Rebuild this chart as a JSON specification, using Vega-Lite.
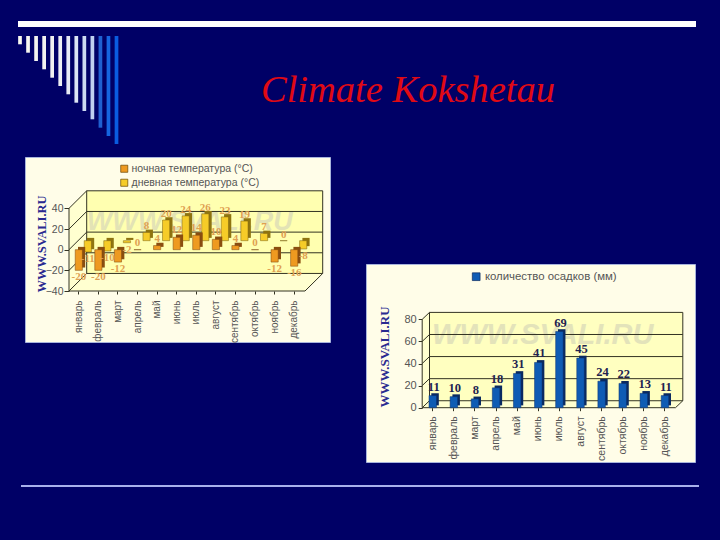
{
"$schema":"https://vega.github.io/schema/vega-lite/v6.json",
"background":"#000066","padding":0,"autosize":{"type":"pad"},
"config":{"view":{"stroke":null},"font":"Liberation Sans"},
"datasets":{
"temps":[
{"month":"январь","series":"ночная температура (°C)","value":-20},{"month":"февраль","series":"ночная температура (°C)","value":-20},{"month":"март","series":"ночная температура (°C)","value":-12},{"month":"апрель","series":"ночная температура (°C)","value":0},{"month":"май","series":"ночная температура (°C)","value":4},{"month":"июнь","series":"ночная температура (°C)","value":12},{"month":"июль","series":"ночная температура (°C)","value":14},{"month":"август","series":"ночная температура (°C)","value":10},{"month":"сентябрь","series":"ночная температура (°C)","value":4},{"month":"октябрь","series":"ночная температура (°C)","value":0},{"month":"ноябрь","series":"ночная температура (°C)","value":-12},{"month":"декабрь","series":"ночная температура (°C)","value":-16},
{"month":"январь","series":"дневная температура (°C)","value":-11},{"month":"февраль","series":"дневная температура (°C)","value":-10},{"month":"март","series":"дневная температура (°C)","value":-2},{"month":"апрель","series":"дневная температура (°C)","value":8},{"month":"май","series":"дневная температура (°C)","value":20},{"month":"июнь","series":"дневная температура (°C)","value":24},{"month":"июль","series":"дневная температура (°C)","value":26},{"month":"август","series":"дневная температура (°C)","value":23},{"month":"сентябрь","series":"дневная температура (°C)","value":19},{"month":"октябрь","series":"дневная температура (°C)","value":7},{"month":"ноябрь","series":"дневная температура (°C)","value":0},{"month":"декабрь","series":"дневная температура (°C)","value":-8}],
"rain":[{"month":"январь","series":"количество осадков (мм)","value":11},{"month":"февраль","series":"количество осадков (мм)","value":10},{"month":"март","series":"количество осадков (мм)","value":8},{"month":"апрель","series":"количество осадков (мм)","value":18},{"month":"май","series":"количество осадков (мм)","value":31},{"month":"июнь","series":"количество осадков (мм)","value":41},{"month":"июль","series":"количество осадков (мм)","value":69},{"month":"август","series":"количество осадков (мм)","value":45},{"month":"сентябрь","series":"количество осадков (мм)","value":24},{"month":"октябрь","series":"количество осадков (мм)","value":22},{"month":"ноябрь","series":"количество осадков (мм)","value":13},{"month":"декабрь","series":"количество осадков (мм)","value":11}]
},
"spacing":0,
"resolve":{"scale":{"color":"independent"},"legend":{"color":"independent"}},
"vconcat":[
{"width":720,"height":156,"resolve":{"scale":{"x":"independent","y":"independent","color":"independent"}},
 "layer":[
 {"data":{"values":[{"a":0,"b":1}]},"mark":{"type":"rule","color":"#FFFFFF","strokeWidth":6},
  "encoding":{"x":{"field":"a","type":"quantitative","axis":null,"scale":{"domain":[0,1],"range":[18,696]}},"x2":{"field":"b"},"y":{"field":"a","type":"quantitative","axis":null,"scale":{"domain":[0,1],"range":[24,25]}}}},
 {"data":{"values":[{"stripe":1,"length":8.3},{"stripe":2,"length":16.7},{"stripe":3,"length":25},{"stripe":4,"length":33.3},{"stripe":5,"length":41.7},{"stripe":6,"length":50},{"stripe":7,"length":58.3},{"stripe":8,"length":66.7},{"stripe":9,"length":75},{"stripe":10,"length":83.3},{"stripe":11,"length":91.7},{"stripe":12,"length":100},{"stripe":13,"length":108}]},
  "mark":{"type":"bar","size":3.7},
  "encoding":{"x":{"field":"stripe","type":"quantitative","axis":null,"scale":{"domain":[1,13],"range":[20,116.5],"padding":0}},
   "y":{"field":"length","type":"quantitative","axis":null,"scale":{"domain":[0,108],"range":[36,144]}},
   "color":{"field":"stripe","type":"ordinal","legend":null,"scale":{"range":["#F8F8F0","#F6F6F0","#F4F4F0","#F2F2F0","#F0F0F0","#ECEEF2","#E6EAF4","#DDE6F5","#CCDAF2","#C0D0F0","#1F60D0","#1565E0","#0A5CE0"]}}}},
 {"data":{"values":[{"u":0.5,"t":"Climate Kokshetau"}]},"mark":{"type":"text","font":"Liberation Serif","fontStyle":"italic","fontSize":38.5,"color":"#E00A14","align":"center","baseline":"alphabetic"},
  "encoding":{"x":{"field":"u","type":"quantitative","axis":null,"scale":{"domain":[0,1],"range":[260,556]}},
   "y":{"field":"u","type":"quantitative","axis":null,"scale":{"domain":[0,1],"range":[52,152]}},
   "text":{"field":"t"}}}
 ]},
{"spacing":0,"resolve":{"scale":{"color":"independent"},"legend":{"color":"independent"}},"hconcat":[
 {"width":24,"height":305,"data":{"values":[]},"mark":"rect"},
 {"width":305,"height":185,"view":{"fill":"#FFFDE8","stroke":"#A8B4DC"},
   "resolve":{"scale":{"x":"independent","y":"independent"}},
   "layer":[
   {"encoding":{"x":{"field":"u","type":"quantitative","axis":null,"scale":{"domain":[0,12.9],"range":[44,297.7]}},
     "y":{"field":"a","type":"quantitative","axis":null,"scale":{"domain":[-40,57],"range":[134,33.8]}}},
    "layer":[
    {"data":{"values":[{"u":0,"a":-40,"b":40},{"u":0.9,"a":-23,"b":57}]},"mark":{"type":"area","color":"#FFFFD0"},"encoding":{"y2":{"field":"b"}}},
    {"data":{"values":[{"u":0,"a":-40,"b":-40},{"u":0.9,"a":-40,"b":-23},{"u":12,"a":-40,"b":-23},{"u":12.9,"a":-23,"b":-23}]},"mark":{"type":"area","color":"#FFFFD0"},"encoding":{"y2":{"field":"b"}}},
    {"data":{"values":[{"u":0.9,"a":-23,"u2":12.9,"b":57}]},"mark":{"type":"rect","color":"#FFFFB0"},"encoding":{"x2":{"field":"u2"},"y2":{"field":"b"}}},
    {"data":{"values":[{"u":0.9,"a":27,"t":"WWW.SVALI.RU"}]},"mark":{"type":"text","align":"left","baseline":"middle","fontSize":27,"fontWeight":"bold","fontStyle":"italic","color":"#D8D8B8","opacity":0.7},"encoding":{"text":{"field":"t"}}},
    {"data":{"values":[
     {"u":0,"u2":0.9,"a":-40,"b":-23},{"u":0,"u2":0.9,"a":-20,"b":-3},{"u":0,"u2":0.9,"a":0,"b":17},{"u":0,"u2":0.9,"a":20,"b":37},{"u":0,"u2":0.9,"a":40,"b":57},
     {"u":0.9,"u2":12.9,"a":-23,"b":-23},{"u":0.9,"u2":12.9,"a":-3,"b":-3},{"u":0.9,"u2":12.9,"a":17,"b":17},{"u":0.9,"u2":12.9,"a":37,"b":37},{"u":0.9,"u2":12.9,"a":57,"b":57},
     {"u":0.9,"u2":0.9,"a":-23,"b":57},{"u":12.9,"u2":12.9,"a":-23,"b":57},{"u":0,"u2":0,"a":-40,"b":40},{"u":0,"u2":12,"a":-40,"b":-40},{"u":12,"u2":12.9,"a":-40,"b":-23}]},
     "mark":{"type":"rule","color":"#333322","strokeWidth":1},"encoding":{"x2":{"field":"u2"},"y2":{"field":"b"}}},
    {"data":{"values":[{"u":-1.36,"a":5.5,"t":"WWW.SVALI.RU"}]},"mark":{"type":"text","angle":270,"align":"center","baseline":"middle","font":"Liberation Serif","fontWeight":"bold","fontSize":12.5,"color":"#2A2A90"},"encoding":{"text":{"field":"t"}}}
    ]},
   {"data":{"name":"temps"},
    "encoding":{"x":{"field":"month","type":"nominal","sort":["январь","февраль","март","апрель","май","июнь","июль","август","сентябрь","октябрь","ноябрь","декабрь"],"scale":{"range":[44,279],"paddingInner":0,"paddingOuter":0},
      "axis":{"title":null,"labelAngle":-90,"labelAlign":"right","labelBaseline":"middle","labelFontSize":10,"labelColor":"#555555","labelPadding":6,"domain":false,"tickColor":"#333322","tickSize":3,"offset":-51}},
     "y":{"field":"value","type":"quantitative","stack":null,"scale":{"domain":[-40,57],"range":[134,33.8]},
      "axis":{"title":null,"values":[-40,-20,0,20,40],"grid":false,"domain":false,"labelFontSize":10.5,"labelColor":"#555555","tickColor":"#333322","tickSize":5,"labelPadding":1,"offset":-44}},
     "y2":{"datum":0}},
    "layer":[
    {"transform":[{"filter":"datum.series==='дневная температура (°C)'"}],"mark":{"type":"bar","size":7.2,"color":"#8F7410","xOffset":11.8,"x2Offset":11.8,"yOffset":-11.8,"y2Offset":-11.8}},
    {"transform":[{"filter":"datum.series==='дневная температура (°C)'"}],"mark":{"type":"bar","size":7.2,"xOffset":9,"x2Offset":9,"yOffset":-9,"y2Offset":-9,"stroke":"#7A6010","strokeWidth":0.5},
     "encoding":{"color":{"field":"series","type":"nominal","scale":{"domain":["ночная температура (°C)","дневная температура (°C)"],"range":["#EE9A20","#F6CC28"]},
      "legend":{"title":null,"orient":"none","legendX":94,"legendY":6.5,"symbolType":"square","symbolSize":50,"symbolStrokeColor":"#664400","symbolStrokeWidth":0.7,"labelFontSize":10.5,"labelColor":"#555555","rowPadding":3,"labelOffset":2}}}},
    {"transform":[{"filter":"datum.series==='ночная температура (°C)'"}],"mark":{"type":"bar","size":7.2,"color":"#8A4E10","xOffset":2.8,"x2Offset":2.8,"yOffset":-2.8,"y2Offset":-2.8}},
    {"transform":[{"filter":"datum.series==='ночная температура (°C)'"}],"mark":{"type":"bar","size":7.2,"stroke":"#7A4410","strokeWidth":0.5},
     "encoding":{"color":{"field":"series","type":"nominal","scale":{"domain":["ночная температура (°C)","дневная температура (°C)"],"range":["#EE9A20","#F6CC28"]},"legend":null}}},
    {"transform":[{"filter":"datum.series==='ночная температура (°C)' && datum.value>=0"}],"mark":{"type":"text","font":"Liberation Serif","fontWeight":"bold","fontSize":11,"color":"#E0A050","baseline":"middle","dy":-7},"encoding":{"y2":null,"text":{"field":"value","type":"nominal"}}},
    {"transform":[{"filter":"datum.series==='ночная температура (°C)' && datum.value<0"}],"mark":{"type":"text","font":"Liberation Serif","fontWeight":"bold","fontSize":11,"color":"#E0A050","baseline":"middle","dy":7},"encoding":{"y2":null,"text":{"field":"value","type":"nominal"}}},
    {"transform":[{"filter":"datum.series==='дневная температура (°C)' && datum.value>=0"}],"mark":{"type":"text","font":"Liberation Serif","fontWeight":"bold","fontSize":11,"color":"#E0A050","baseline":"middle","dx":9,"dy":-15},"encoding":{"y2":null,"text":{"field":"value","type":"nominal"}}},
    {"transform":[{"filter":"datum.series==='дневная температура (°C)' && datum.value<0"}],"mark":{"type":"text","font":"Liberation Serif","fontWeight":"bold","fontSize":11,"color":"#E0A050","baseline":"middle","dx":9,"dy":-2},"encoding":{"y2":null,"text":{"field":"value","type":"nominal"}}}
    ]}
   ]},
 {"width":33.5,"height":305,"data":{"values":[]},"mark":"rect"},
 {"spacing":0,"resolve":{"scale":{"color":"independent"},"legend":{"color":"independent"}},"vconcat":[
  {"width":329,"height":106,"data":{"values":[]},"mark":"rect"},
  {"width":329,"height":198,"view":{"fill":"#FFFDE8","stroke":"#A8B4DC"},
   "resolve":{"scale":{"x":"independent","y":"independent"}},
   "layer":[
   {"encoding":{"x":{"field":"u","type":"quantitative","axis":null,"scale":{"domain":[0,12.346],"range":[56.2,316.8]}},
     "y":{"field":"a","type":"quantitative","axis":null,"scale":{"domain":[0,86.3],"range":[143.7,48.4]}}},
    "layer":[
    {"data":{"values":[{"u":0,"a":0,"b":0},{"u":0.346,"a":0,"b":6.3},{"u":12,"a":0,"b":6.3},{"u":12.346,"a":6.3,"b":6.3}]},"mark":{"type":"area","color":"#FFFFD0"},"encoding":{"y2":{"field":"b"}}},
    {"data":{"values":[{"u":0,"a":0,"b":80},{"u":0.346,"a":6.3,"b":86.3}]},"mark":{"type":"area","color":"#FFFFD0"},"encoding":{"y2":{"field":"b"}}},
    {"data":{"values":[{"u":0.346,"a":6.3,"u2":12.346,"b":86.3}]},"mark":{"type":"rect","color":"#FFFFC0"},"encoding":{"x2":{"field":"u2"},"y2":{"field":"b"}}},
    {"data":{"values":[{"u":0.47,"a":65.9,"t":"WWW.SVALI.RU"}]},"mark":{"type":"text","align":"left","baseline":"middle","fontSize":29,"fontWeight":"bold","fontStyle":"italic","color":"#D8D8B8","opacity":0.7},"encoding":{"text":{"field":"t"}}},
    {"data":{"values":[
     {"u":0,"u2":0.346,"a":0,"b":6.3},{"u":0,"u2":0.346,"a":20,"b":26.3},{"u":0,"u2":0.346,"a":40,"b":46.3},{"u":0,"u2":0.346,"a":60,"b":66.3},{"u":0,"u2":0.346,"a":80,"b":86.3},
     {"u":0.346,"u2":12.346,"a":6.3,"b":6.3},{"u":0.346,"u2":12.346,"a":26.3,"b":26.3},{"u":0.346,"u2":12.346,"a":46.3,"b":46.3},{"u":0.346,"u2":12.346,"a":66.3,"b":66.3},{"u":0.346,"u2":12.346,"a":86.3,"b":86.3},
     {"u":0.346,"u2":0.346,"a":6.3,"b":86.3},{"u":12.346,"u2":12.346,"a":6.3,"b":86.3},{"u":0,"u2":0,"a":0,"b":80},{"u":0,"u2":12,"a":0,"b":0},{"u":12,"u2":12.346,"a":0,"b":6.3}]},
     "mark":{"type":"rule","color":"#333322","strokeWidth":1},"encoding":{"x2":{"field":"u2"},"y2":{"field":"b"}}},
    {"data":{"values":[{"u":-1.74,"a":45.9,"t":"WWW.SVALI.RU"}]},"mark":{"type":"text","angle":270,"align":"center","baseline":"middle","font":"Liberation Serif","fontWeight":"bold","fontSize":13,"color":"#2A2A90"},"encoding":{"text":{"field":"t"}}}
    ]},
   {"data":{"name":"rain"},
    "encoding":{"x":{"field":"month","type":"nominal","sort":["январь","февраль","март","апрель","май","июнь","июль","август","сентябрь","октябрь","ноябрь","декабрь"],"scale":{"range":[56.2,309.5],"paddingInner":0,"paddingOuter":0},
      "axis":{"title":null,"labelAngle":-90,"labelAlign":"right","labelBaseline":"middle","labelFontSize":10.5,"labelColor":"#555555","labelPadding":5,"domain":false,"tickColor":"#333322","tickSize":3,"offset":-54.3}},
     "y":{"field":"value","type":"quantitative","stack":null,"scale":{"domain":[0,86.3],"range":[143.7,48.4]},
      "axis":{"title":null,"values":[0,20,40,60,80],"grid":false,"domain":false,"labelFontSize":11,"labelColor":"#555555","tickColor":"#333322","tickSize":4,"labelPadding":2,"offset":-56.2}}},
    "layer":[
    {"mark":{"type":"bar","size":7.5,"color":"#0A2A60","xOffset":2.3,"x2Offset":2.3,"yOffset":-2.3,"y2Offset":-2.3},"encoding":{"y2":{"datum":0}}},
    {"mark":{"type":"bar","size":7.5,"stroke":"#0A3070","strokeWidth":0.5},
     "encoding":{"color":{"field":"series","type":"nominal","scale":{"range":["#0F5CB4"]},
      "legend":{"title":null,"orient":"none","legendX":104.5,"legendY":7,"symbolType":"square","symbolSize":60,"symbolStrokeColor":"#0A2A60","symbolStrokeWidth":0.7,"labelFontSize":11.4,"labelColor":"#555555","labelOffset":3}}}},
    {"mark":{"type":"text","font":"Liberation Serif","fontWeight":"bold","fontSize":12.5,"color":"#222250","baseline":"middle","dy":-9,"dx":1},"encoding":{"text":{"field":"value","type":"quantitative"}}}
    ]}
   ]}
 ]}
]},
{"width":720,"height":79,"data":{"values":[{"a":0,"b":1}]},"mark":{"type":"rule","color":"#A8B0EC","strokeWidth":2},
 "encoding":{"x":{"field":"a","type":"quantitative","axis":null,"scale":{"domain":[0,1],"range":[21,699]}},"x2":{"field":"b"},"y":{"field":"a","type":"quantitative","axis":null,"scale":{"domain":[0,1],"range":[23,24]}}}}
]}
